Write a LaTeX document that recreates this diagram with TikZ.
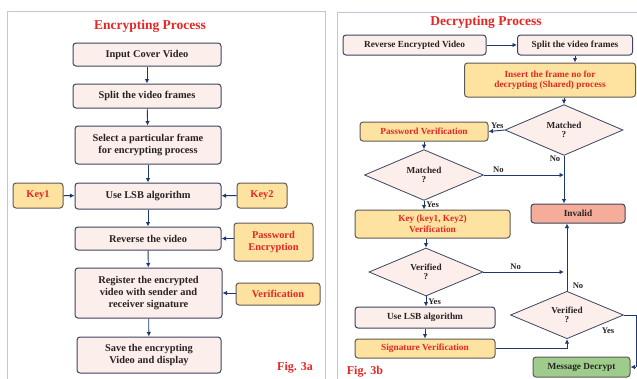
\documentclass[tikz,border=0pt]{standalone}
\usepackage{fontspec}
\setmainfont{Liberation Serif}
\usetikzlibrary{shapes.geometric,arrows.meta}
\definecolor{boxfill}{RGB}{252,238,234}
\definecolor{boxdraw}{RGB}{60,70,95}
\definecolor{yfill}{RGB}{253,226,160}
\definecolor{ydraw}{RGB}{95,90,85}
\definecolor{redtxt}{RGB}{228,38,38}
\definecolor{dtxt}{RGB}{40,35,35}
\definecolor{navy}{RGB}{30,55,110}
\definecolor{invfill}{RGB}{245,172,152}
\definecolor{grnfill}{RGB}{158,204,140}
\definecolor{frame}{RGB}{190,200,215}
\tikzset{
  x=1pt,y=-1pt,
  box/.style={draw=boxdraw,fill=boxfill,rounded corners=3pt,line width=1pt,inner sep=1pt,
    align=center,font=\bfseries\fontsize{10.4}{12}\selectfont,text=dtxt},
  ybox/.style={box,draw=ydraw,fill=yfill,text=redtxt},
  sbox/.style={box,font=\bfseries\fontsize{9.3}{10.5}\selectfont},
  sybox/.style={ybox,font=\bfseries\fontsize{9.3}{10.5}\selectfont},
  dia/.style={diamond,draw=boxdraw,fill=boxfill,line width=0.8pt,inner sep=0pt,align=center,
    font=\bfseries\fontsize{9.2}{9.5}\selectfont,text=dtxt},
  arr/.style={draw=navy,line width=0.9pt,-{Latex[length=4.5pt,width=4.5pt]}},
  ln/.style={draw=navy,line width=0.9pt},
  lbl/.style={font=\bfseries\fontsize{8.6}{9}\selectfont,text=dtxt,inner sep=0pt},
  ttl/.style={font=\bfseries\fontsize{13.5}{15}\selectfont,text=redtxt},
  fig/.style={font=\bfseries\fontsize{12}{13}\selectfont,text=redtxt,inner sep=0pt},
  panel/.style={draw=frame,line width=0.8pt}
}
\begin{document}
\begin{tikzpicture}
\useasboundingbox (0,0) rectangle (637,378);
\fill[white] (0,0) rectangle (637,378);
% panels
\draw[panel] (7,11) rectangle (325,382);
\draw[panel] (337,12) rectangle (642,382);
% ---- left: encrypting
\node[ttl] (t1) at (150,26) {Encrypting Process};
\node[box,minimum width=148,minimum height=23] (n1) at (147,54.5) {Input Cover Video};
\node[box,minimum width=148,minimum height=24] (n2) at (147,96) {Split the video frames};
\node[box,minimum width=146,minimum height=38] (n3) at (148,145) {Select a particular frame\\for encrypting process};
\node[box,minimum width=146,minimum height=26] (n4) at (148,196) {Use LSB algorithm};
\node[ybox,minimum width=50,minimum height=25] (k1) at (38,195.5) {Key1};
\node[ybox,minimum width=50,minimum height=25] (k2) at (262,195.5) {Key2};
\node[box,minimum width=146,minimum height=23] (n5) at (148,238.5) {Reverse the video};
\node[ybox,minimum width=79,minimum height=38] (pe) at (273.5,242) {Password\\Encryption};
\node[box,minimum width=147,minimum height=50] (n6) at (148.5,293) {Register the encrypted\\video with sender and\\receiver signature};
\node[ybox,minimum width=84,minimum height=22] (ve) at (278,294) {Verification};
\node[box,minimum width=144,minimum height=36] (n7) at (149,355) {Save the encrypting\\Video and display};
\node[fig] (f1) at (295,368) {Fig. 3a};
\draw[arr] (n1) -- (n2);
\draw[arr] (n2) -- (n3);
\draw[arr] (n3) -- (n4);
\draw[arr] (n4) -- (n5);
\draw[arr] (n5) -- (n6);
\draw[arr] (n6) -- (n7);
\draw[arr] (k1) -- (n4);
\draw[arr] (k2) -- (n4);
\draw[arr] (pe.west |- n5) -- (n5.east);
\draw[arr] (ve.west |- n6) -- (n6.east);
% ---- right: decrypting
\node[ttl] (t2) at (486,22) {Decrypting Process};
\node[sbox,minimum width=143,minimum height=20] (r1) at (414.5,45) {Reverse Encrypted Video};
\node[sbox,minimum width=115,minimum height=20] (r2) at (575,45) {Split the video frames};
\node[sybox,minimum width=171,minimum height=34] (r3) at (550,80) {Insert the frame no for\\decrypting (Shared) process};
\node[dia,minimum width=118,minimum height=46] (d1) at (564,130) {Matched\\?};
\node[sybox,minimum width=128,minimum height=19] (pv) at (424,131.5) {Password Verification};
\node[dia,minimum width=119,minimum height=46] (d2) at (424,175) {Matched\\?};
\node[sybox,minimum width=155,minimum height=28] (kv) at (432.5,224) {Key (key1, Key2)\\Verification};
\node[sbox,fill=invfill,minimum width=94,minimum height=19] (inv) at (578,213.5) {Invalid};
\node[dia,minimum width=114,minimum height=48] (d3) at (426,272) {Verified\\?};
\node[sbox,minimum width=140,minimum height=21] (lsb) at (425,317.5) {Use LSB algorithm};
\node[sybox,minimum width=140,minimum height=19] (sv) at (425,348.5) {Signature Verification};
\node[dia,minimum width=113,minimum height=46] (d4) at (567,315) {Verified\\?};
\node[sbox,fill=grnfill,draw=ydraw,minimum width=97,minimum height=20] (md) at (581.5,367) {Message Decrypt};
\node[fig] (f2) at (365,372) {Fig. 3b};
\coordinate (c1) at (636,315);
\coordinate (c2) at (636,367);
\draw[arr] (r1) -- (r2);
\draw[arr] (r2.south) -- (r2.south |- r3.north);
\draw[arr] (d1.north |- r3.south) -- (d1.north);
\draw[arr] (d1.west) -- (pv.east) node[lbl,pos=0.45,above=2pt] {Yes};
\draw[arr] (pv.south) -- (d2.north);
\draw[arr] (d1.south) -- (d1.south |- inv.north);
\node[lbl] (no1) at (555,159) {No};
\draw[arr] (d2.east) -- (d1.south |- d2.east) node[lbl,pos=0.18,above=2pt] {No};
\draw[arr] (d2.south) -- (d2.south |- kv.north) node[lbl,midway,right=2pt] {Yes};
\draw[arr] (d3.north |- kv.south) -- (d3.north);
\draw[arr] (d3.east) -- (d1.south |- d3.east) node[lbl,pos=0.4,above=2pt] {No};
\draw[arr] (d3.south) -- (d3.south |- lsb.north) node[lbl,midway,right=2pt] {Yes};
\draw[arr] (lsb) -- (sv);
\draw[arr] (sv.east) -| (d4.south);
\draw[arr] (d4.north) -- (d4.north |- inv.south);
\node[lbl] (no4) at (578,286) {No};
\draw[ln] (d4.east) -- (c1) -- (c2);
\draw[arr] (c2) -- (md.east);
\node[lbl] (yes4) at (608,331) {Yes};
\end{tikzpicture}
\end{document}
